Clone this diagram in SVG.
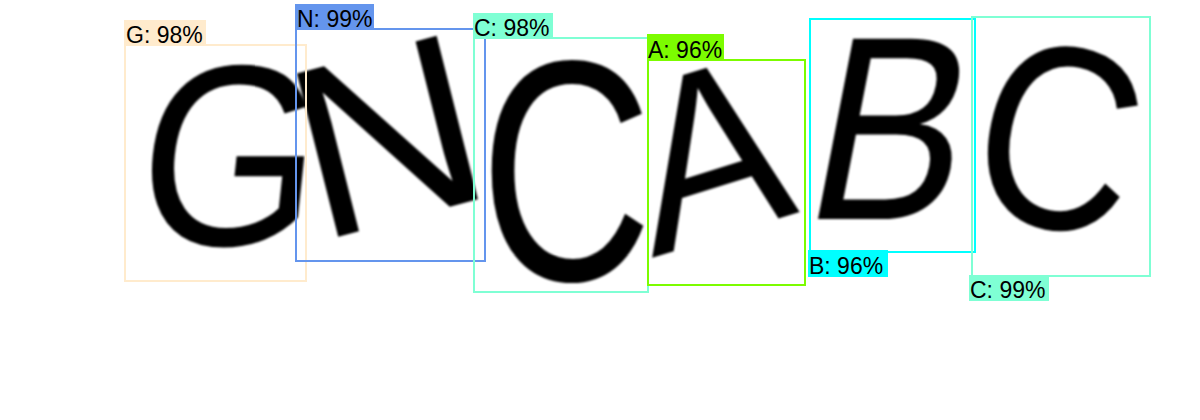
<svg xmlns="http://www.w3.org/2000/svg" width="1200" height="420" viewBox="0 0 1200 420">
<defs>
<filter id="soft" x="-10%" y="-10%" width="120%" height="120%"><feGaussianBlur stdDeviation="0.9"/></filter>
</defs>
<style>
.glyph{font-family:"Liberation Sans",Arial,sans-serif;fill:#000;text-anchor:middle}
.box{fill:none;stroke-width:2}
.lbl{font-family:"Liberation Sans",Arial,sans-serif;font-size:23px;fill:#000}
</style>
<rect width="1200" height="420" fill="#fff"/>
<g id="letters" filter="url(#soft)">
<text class="glyph" font-size="258" transform="translate(222,245) skewX(-6) scale(0.9,1)">G</text>
<text class="glyph" font-size="250" transform="matrix(1.0,-0.27,0.24,0.95,408,218)">N</text>
<text class="glyph" font-size="315" transform="translate(566,280) scale(0.76,1)">C</text>
<text class="glyph" font-size="250" transform="matrix(0.89,-0.277,0.184,0.95,726,235)">A</text>
<text class="glyph" font-size="262" transform="translate(876,219) skewX(-11) scale(0.88,1)">B</text>
<text class="glyph" font-size="262" transform="translate(1040,226) rotate(12) scale(0.85,1)">C</text>
</g>
<g id="det-G">
<rect class="box" x="125" y="45" width="181" height="236" stroke="#FFEBCD"/>
<rect x="124" y="20" width="82" height="25" fill="#FFEBCD"/>
<text class="lbl" x="126" y="43">G: 98%</text>
</g>
<g id="det-N">
<rect class="box" x="296" y="29" width="189" height="232" stroke="#6495ED"/>
<rect x="295" y="4" width="79" height="25" fill="#6495ED"/>
<text class="lbl" x="297" y="27">N: 99%</text>
</g>
<g id="det-C1">
<rect class="box" x="474" y="38" width="174" height="254" stroke="#7FFFD4"/>
<rect x="473" y="13" width="80" height="25" fill="#7FFFD4"/>
<text class="lbl" x="474" y="36">C: 98%</text>
</g>
<g id="det-A">
<rect class="box" x="648" y="60" width="157" height="225" stroke="#7CFC00"/>
<rect x="647" y="34" width="77" height="26" fill="#7CFC00"/>
<text class="lbl" x="648" y="58">A: 96%</text>
</g>
<g id="det-B">
<rect class="box" x="810" y="19" width="165" height="233" stroke="#00FFFF"/>
<rect x="808" y="250" width="80" height="27" fill="#00FFFF"/>
<text class="lbl" x="809" y="274">B: 96%</text>
</g>
<g id="det-C2">
<rect class="box" x="972" y="17" width="178" height="259" stroke="#7FFFD4"/>
<rect x="969" y="275" width="80" height="26" fill="#7FFFD4"/>
<text class="lbl" x="970" y="298">C: 99%</text>
</g>
</svg>
